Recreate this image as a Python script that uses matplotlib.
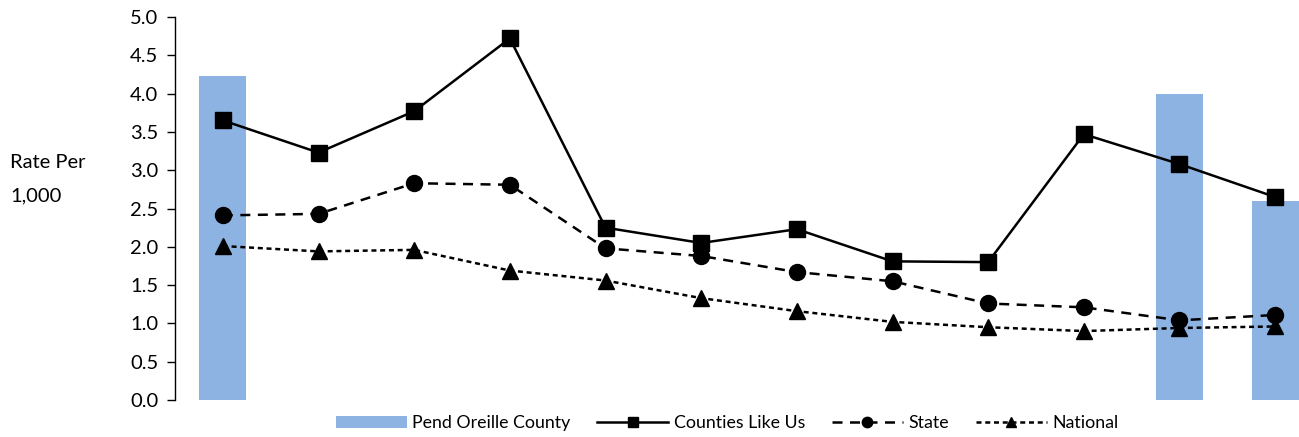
import numpy as np
import matplotlib
matplotlib.use("Agg")
import matplotlib.pyplot as plt

plt.rcParams['font.family'] = ['Lato', 'DejaVu Sans']

# ---------------------------------------------------------------
#  datos
# ---------------------------------------------------------------
n_cats = 12
pend_oreille = [4.23, np.nan, np.nan, np.nan, np.nan, np.nan,
                np.nan, np.nan, np.nan, np.nan, 4.00, 2.60]
counties_like_us = [3.65, 3.23, 3.77, 4.72, 2.25, 2.05, 2.23, 1.81, 1.80, 3.47, 3.08, 2.65]
state = [2.41, 2.43, 2.83, 2.81, 1.98, 1.88, 1.67, 1.55, 1.26, 1.21, 1.04, 1.11]
national = [2.01, 1.94, 1.96, 1.69, 1.56, 1.33, 1.16, 1.02, 0.95, 0.90, 0.94, 0.96]
y_ticks = np.arange(0, 5.01, 0.5)

x = np.arange(n_cats)

fig = plt.figure(figsize=(12.99, 4.37), dpi=100)
# el eje se sale por la derecha (la ultima barra queda cortada)
ax = fig.add_axes([175 / 1299, 1 - 400 / 437, 1148 / 1299, 383 / 437])

bars = ax.bar(x, pend_oreille, width=0.49, color='#8DB3E2', label='Pend Oreille County', zorder=1)
l1, = ax.plot(x, counties_like_us, color='black', linewidth=1.8, marker='s', markersize=11.5,
              label='Counties Like Us', zorder=3)
l2, = ax.plot(x, state, color='black', linewidth=1.8, linestyle=(0, (4, 3)), marker='o',
              markersize=11.5, label='State', zorder=3)
l3, = ax.plot(x, national, color='black', linewidth=1.8, linestyle=(0, (2, 1.5)), marker='^',
              markersize=11.5, label='National', zorder=3)

ax.set_xlim(-0.5, n_cats - 0.5)
ax.set_ylim(0, 5.0)
ax.set_yticks(y_ticks)
ax.set_yticklabels([f"{v:.1f}" for v in y_ticks], fontsize=14.5)
ax.set_xticks([])

for s in ['top', 'right', 'bottom']:
    ax.spines[s].set_visible(False)
ax.spines['left'].set_color('black')
ax.spines['left'].set_linewidth(1.0)
ax.tick_params(axis='y', direction='out', length=6, width=1.0, pad=6)

fig.text(10 / 1299, 1 - 163 / 437, "Rate Per", fontsize=14.5, ha='left', va='center')
fig.text(10 / 1299, 1 - 196 / 437, "1,000", fontsize=14.5, ha='left', va='center')

fig.legend([bars, l1, l2, l3],
           ['Pend Oreille County', 'Counties Like Us', 'State', 'National'],
           loc='center', bbox_to_anchor=(727 / 1299, 1 - 423 / 437), ncol=4, frameon=False,
           fontsize=12.8, handlelength=4.0, columnspacing=1.5, handletextpad=0.3,
           markerscale=0.65)

fig.savefig("out.png", dpi=100)
